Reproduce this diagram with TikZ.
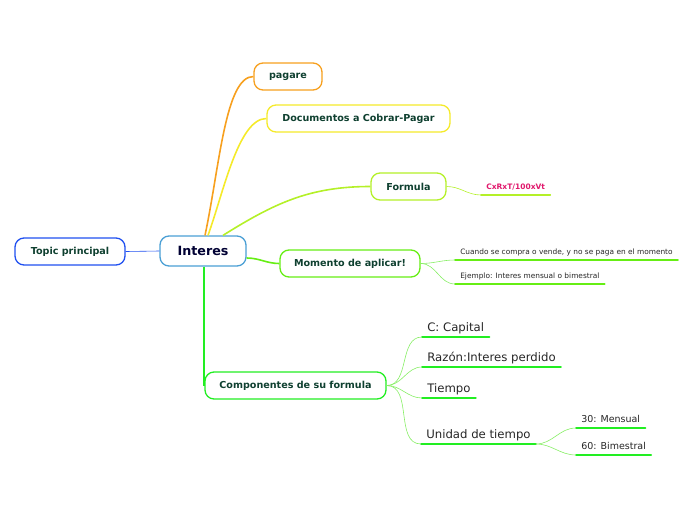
\documentclass[tikz,border=0pt]{standalone}
\usepackage{fontspec}
\setmainfont{DejaVu Sans}
\usetikzlibrary{positioning}
\definecolor{nodetext}{HTML}{0F4030}
\definecolor{rootblue}{HTML}{4A9FD5}
\definecolor{topicblue}{HTML}{2050F0}
\definecolor{brorange}{HTML}{F7A01E}
\definecolor{bryellow}{HTML}{F5EA2A}
\definecolor{brlime}{HTML}{B4F028}
\definecolor{brgreen}{HTML}{66EE14}
\definecolor{brcomp}{HTML}{22EE22}
\definecolor{leafgreen}{HTML}{88EE66}
\definecolor{formtext}{HTML}{E0186C}
\begin{document}
\begin{tikzpicture}[x=1pt,y=-1pt,line width=.6pt,
  topic/.style={draw,rounded corners=9pt,line width=1.3pt,fill=white,minimum height=27pt,
    inner xsep=4pt,text=nodetext,font=\bfseries\fontsize{9.6}{11}\selectfont},
  leaf/.style={anchor=south west,inner xsep=5pt,inner ysep=3pt,text depth=.25em,text=black!85},
  uline/.style={line width=1.8pt,line cap=round},
  branch/.style={line width=1.6pt},
  twig/.style={line width=.6pt,leafgreen}]
  \useasboundingbox (0,0) rectangle (696,520);
  % central topic
  \node[topic,draw=rootblue,minimum width=86pt,minimum height=30pt,text=blue!20!black,
    font=\bfseries\fontsize{12.7}{14}\selectfont] (interes) at (203,251) {Interes};
  \node[topic,draw=topicblue,minimum width=110pt] (princ) at (70,251.5) {Topic principal};
  \draw[topicblue] (princ.east) -- (interes.west);
  % main branches
  \node[topic,draw=brorange,minimum width=68pt] (pagare) at (288,76.5) {pagare};
  \node[topic,draw=bryellow,minimum width=183pt] (docs) at (358.5,118.5) {Documentos a Cobrar-Pagar};
  \node[topic,draw=brlime,minimum width=75pt] (formula) at (408.5,186.5) {Formula};
  \node[topic,draw=brgreen,minimum width=140pt] (momento) at (350,263.5) {Momento de aplicar!};
  \node[topic,draw=brcomp,minimum width=181pt] (comp) at (295.5,385.5) {Componentes de su formula};
  \draw[branch,brorange] ([xshift=2pt]interes.north) .. controls +(78:70pt) and +(-28pt,0pt) .. (pagare.west);
  \draw[branch,bryellow] ([xshift=5pt]interes.north) .. controls +(70:45pt) and +(-28pt,0pt) .. (docs.west);
  \draw[branch,brlime] ([xshift=20pt]interes.north) to[out=32,in=180] (formula.west);
  \draw[branch,brgreen] ([yshift=-7pt]interes.east) to[out=0,in=180] (momento.west);
  \draw[branch,brcomp] ([xshift=1pt]interes.south) -- ([xshift=1pt]interes.south |- comp.west);
  % formula
  \node[leaf,text=formtext,font=\bfseries\fontsize{7.5}{9}\selectfont] (cx) at (481,195) {CxRxT/100xVt};
  \draw[uline,brlime] (cx.south west) -- (cx.south east);
  \draw[twig,brlime] (formula.east) to[out=0,in=180] (cx.south west);
  % momento
  \node[leaf,font=\fontsize{7.4}{8}\selectfont] (cuando) at (455,260) {Cuando se compra o vende, y no se paga en el momento};
  \node[leaf,font=\fontsize{7.4}{8}\selectfont] (ejemplo) at (455,284) {Ejemplo: Interes mensual o bimestral};
  \draw[uline,brgreen] (cuando.south west) -- (cuando.south east);
  \draw[uline,brgreen] (ejemplo.south west) -- (ejemplo.south east);
  \draw[twig] (momento.east) to[out=0,in=180] (cuando.south west);
  \draw[twig] (momento.east) to[out=0,in=180] (ejemplo.south west);
  % componentes
  \node[leaf,font=\fontsize{11.7}{13}\selectfont] (capital) at (422,337) {C: Capital};
  \node[leaf,font=\fontsize{11.7}{13}\selectfont] (razon) at (422,367) {Razón:Interes perdido};
  \node[leaf,font=\fontsize{11.7}{13}\selectfont] (tiempo) at (422,398) {Tiempo};
  \node[leaf,font=\fontsize{11.7}{13}\selectfont] (unidad) at (421,444) {Unidad de tiempo};
  \foreach \n in {capital,razon,tiempo,unidad} {
    \draw[uline,brcomp] (\n.south west) -- (\n.south east);
    \draw[twig] (comp.east) to[out=0,in=180] (\n.south west);
  }
  \node[leaf,font=\fontsize{9.5}{11}\selectfont] (mens) at (576,428) {30: Mensual};
  \node[leaf,font=\fontsize{9.5}{11}\selectfont] (bimes) at (576,455) {60: Bimestral};
  \foreach \n in {mens,bimes} {
    \draw[uline,brcomp] (\n.south west) -- (\n.south east);
    \draw[twig] (unidad.south east) to[out=0,in=180] (\n.south west);
  }
\end{tikzpicture}
\end{document}
